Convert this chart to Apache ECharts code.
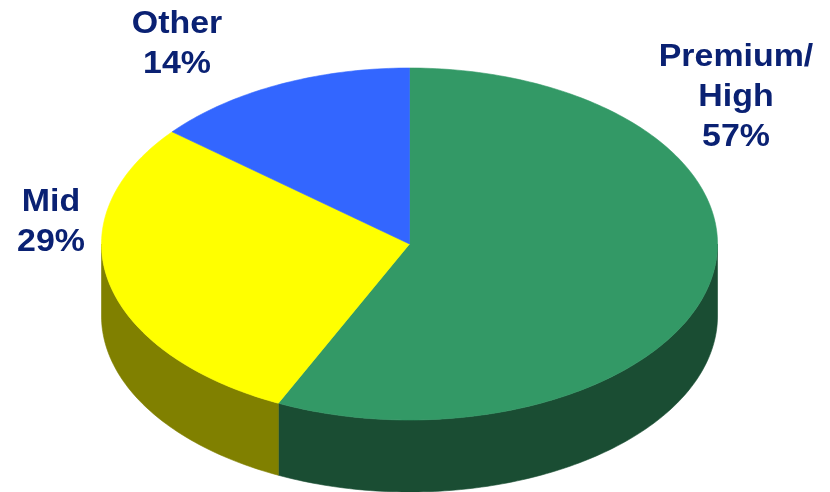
<!DOCTYPE html>
<html><head><meta charset="utf-8">
<script src="https://cdn.jsdelivr.net/npm/echarts@6/dist/echarts.min.js"></script>
<style>html,body{margin:0;padding:0;background:#fff}#c{width:830px;height:492px}</style>
</head><body><div id="c"></div>
<script>
const categories = ['Premium/\nHigh', 'Mid', 'Other'];
const values = [57, 29, 14];
const topColors = ['#339966', '#FFFF00', '#3366FF'];
const sideColors = ['#1A4D33', '#808000', '#1A3380'];

// layout (not data)
const CX = 409.5, CY = 244, RX = 308, RY = 176, DEPTH = 72;
const labelAnchors = [[736, 97], [51, 222], [177, 44]];

const total = values.reduce((a, b) => a + b, 0);
const starts = [];
let acc = 0;
values.forEach(v => { starts.push(acc / total * 360); acc += v; });

function pt(deg, dy) {
  const r = deg * Math.PI / 180;
  return [CX + RX * Math.sin(r), CY - RY * Math.cos(r) + (dy || 0)];
}
function arc(a0, a1, dy) {
  const n = Math.max(2, Math.ceil(Math.abs(a1 - a0)));
  const pts = [];
  for (let i = 0; i <= n; i++) pts.push(pt(a0 + (a1 - a0) * i / n, dy));
  return pts;
}

const chart = echarts.init(document.getElementById('c'), null, { renderer: 'canvas' });
chart.setOption({
  animation: false,
  backgroundColor: '#ffffff',
  series: [{
    type: 'custom',
    coordinateSystem: 'none',
    data: values.map(v => [v]),
    renderItem: function (params, api) {
      const i = params.dataIndex;
      const v = api.value(0);
      const a0 = starts[i], a1 = a0 + v / total * 360;
      const children = [];
      const s0 = Math.max(a0, 90), s1 = Math.min(a1, 270);
      if (s1 > s0) {
        const upper = arc(s0, s1, 0);
        const lower = arc(s1, s0, DEPTH);
        children.push({ type: 'polygon', z2: 1, shape: { points: upper.concat(lower) },
          style: { fill: sideColors[i], stroke: sideColors[i], lineWidth: 0.6 } });
      }
      children.push({ type: 'polygon', z2: 2, shape: { points: [[CX, CY]].concat(arc(a0, a1, 0)) },
        style: { fill: topColors[i], stroke: topColors[i], lineWidth: 0.6 } });
      children.push({ type: 'text', z2: 3, x: labelAnchors[i][0], y: labelAnchors[i][1], scaleX: 1.06,
        style: { text: categories[i] + '\n' + v + '%', fill: '#0A2173',
          font: 'bold 32px "Liberation Sans", Arial, sans-serif',
          align: 'center', verticalAlign: 'middle', lineHeight: 40 } });
      return { type: 'group', children: children };
    }
  }]
});
</script>
</body></html>
